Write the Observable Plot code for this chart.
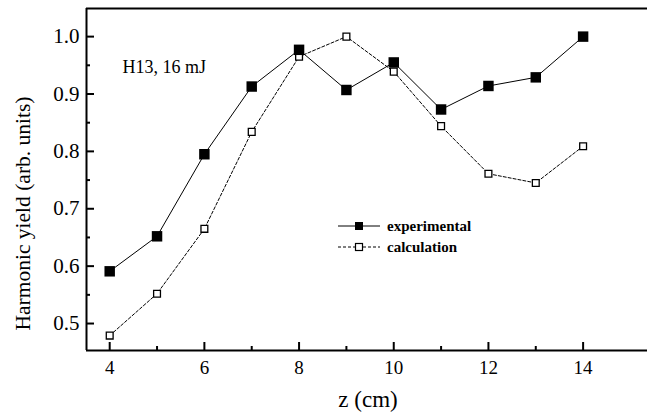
<!DOCTYPE html>
<html><head><meta charset="utf-8">
<script src="https://cdn.jsdelivr.net/npm/d3@7"></script>
<script src="https://cdn.jsdelivr.net/npm/@observablehq/plot@0.6"></script>
<style>
html,body{margin:0;padding:0;background:#fff;}
#chart{position:relative;width:647px;height:419px;}
#chart svg, #chart svg text{font-family:"Liberation Serif", serif !important;}
</style></head><body><div id="chart"></div>
<script>
const zValues = [4, 5, 6, 7, 8, 9, 10, 11, 12, 13, 14];
const experimental = [0.591, 0.652, 0.795, 0.913, 0.977, 0.907, 0.955, 0.873, 0.914, 0.929, 1.0];
const calculation = [0.479, 0.552, 0.665, 0.834, 0.965, 1.0, 0.939, 0.844, 0.761, 0.745, 0.809];
const seriesNames = ["experimental", "calculation"];
const xMajorTicks = [4, 6, 8, 10, 12, 14];
const xMinorTicks = [5, 7, 9, 11, 13];
const yMajorTicks = [0.5, 0.6, 0.7, 0.8, 0.9, 1.0];
const yMinorTicks = [0.55, 0.65, 0.75, 0.85, 0.95];
const xDomain = [3.51, 15.36];
const yDomain = [0.453, 1.049];
const annotation = "H13, 16 mJ";
const xLabel = "z (cm)";
const yLabel = "Harmonic yield (arb. units)";

const W = 647, H = 419;
const mL = 86, mR = 0, mT = 8, mB = 69;
const plotW = W - mL - mR, plotH = H - mT - mB;
const serif = "Liberation Serif";

const expRows = zValues.map((z, i) => ({z, v: experimental[i]}));
const calcRows = zValues.map((z, i) => ({z, v: calculation[i]}));

const chart = Plot.plot({
  width: W, height: H,
  marginLeft: mL, marginRight: mR, marginTop: mT, marginBottom: mB,
  style: {fontSize: "20px", color: "#000", background: "#fff", overflow: "visible"},
  x: {domain: xDomain, axis: null},
  y: {domain: yDomain, axis: null},
  marks: [
    // frame lines (left, top, bottom)
    Plot.ruleY([yDomain[0], yDomain[1]], {stroke: "#000", strokeWidth: 2}),
    Plot.ruleX([xDomain[0]], {stroke: "#000", strokeWidth: 2}),
    // inward ticks
    Plot.tickX(xMajorTicks, {x: d => d, insetTop: plotH - 8, stroke: "#000", strokeWidth: 2}),
    Plot.tickX(xMinorTicks, {x: d => d, insetTop: plotH - 4, stroke: "#000", strokeWidth: 2}),
    Plot.tickY(yMajorTicks, {y: d => d, insetRight: plotW - 8, stroke: "#000", strokeWidth: 2}),
    Plot.tickY(yMinorTicks, {y: d => d, insetRight: plotW - 4, stroke: "#000", strokeWidth: 2}),
    // tick labels
    Plot.axisX({ticks: xMajorTicks, tickSize: 0, tickPadding: 10, label: null, fontSize: 19, fontFamily: serif, tickFormat: d => String(d)}),
    Plot.axisY({ticks: yMajorTicks, tickSize: 0, tickPadding: 7, label: null, fontSize: 21, fontFamily: serif, tickFormat: d => d.toFixed(1)}),
    // series
    Plot.line(calcRows, {x: "z", y: "v", stroke: "#000", strokeWidth: 1, strokeDasharray: "3,2"}),
    Plot.line(expRows, {x: "z", y: "v", stroke: "#000", strokeWidth: 1}),
    Plot.dot(calcRows, {x: "z", y: "v", symbol: "square", r: 3.85, fill: "#fff", stroke: "#000", strokeWidth: 1.3}),
    Plot.dot(expRows, {x: "z", y: "v", symbol: "square", r: 5.9, fill: "#000", stroke: "none"}),
    // annotation and axis titles
    Plot.text([annotation], {frameAnchor: "top-left", dx: 36, dy: 59, textAnchor: "start", lineAnchor: "middle", fontSize: 18, fontFamily: serif}),
    Plot.text([xLabel], {frameAnchor: "bottom", dx: 1, dy: 56, fontSize: 23, fontFamily: serif}),
    Plot.text([yLabel], {frameAnchor: "left", dx: -63, dy: 34, rotate: -90, textAnchor: "middle", lineAnchor: "middle", fontSize: 21.5, fontFamily: serif})
  ]
});
document.getElementById("chart").appendChild(chart);

// legend overlay inside the plot area
const svg = d3.select(chart);
const legend = svg.append("g").attr("font-family", serif).attr("font-size", 15)
  .attr("font-weight", "bold").attr("text-anchor", "start");
const legendRows = [
  {name: seriesNames[0], dash: null, fill: "#000", size: 8},
  {name: seriesNames[1], dash: "3,2", fill: "#fff", size: 7}
];
legendRows.forEach((s, i) => {
  const y = 226 + i * 21;
  legend.append("line").attr("x1", 338).attr("x2", 380).attr("y1", y).attr("y2", y)
    .attr("stroke", "#000").attr("stroke-width", 1).attr("stroke-dasharray", s.dash);
  legend.append("rect").attr("x", 359 - s.size / 2).attr("y", y - s.size / 2)
    .attr("width", s.size).attr("height", s.size)
    .attr("fill", s.fill).attr("stroke", "#000").attr("stroke-width", s.fill === "#000" ? 0 : 1.2);
  legend.append("text").attr("x", 387).attr("y", y).attr("dy", "0.32em").attr("fill", "#000").text(s.name);
});
</script>
</body></html>
